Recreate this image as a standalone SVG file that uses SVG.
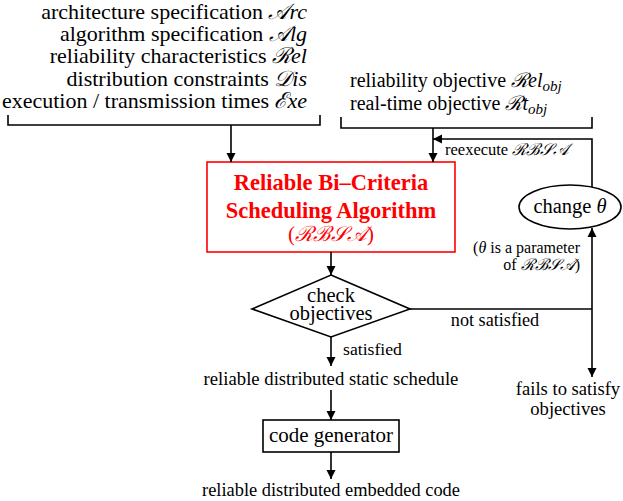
<svg xmlns="http://www.w3.org/2000/svg" width="623" height="501" viewBox="0 0 623 501">
<defs>
<marker id="ah" viewBox="0 0 10 10" refX="10" refY="5" markerWidth="9" markerHeight="10" markerUnits="userSpaceOnUse" orient="auto">
<path d="M0,0 L10,5 L0,10 z" fill="#000"/>
</marker>
</defs>
<rect width="623" height="501" fill="#fff"/>
<g id="inputs" font-size="22" text-anchor="end">
<text style="font-family:'Liberation Serif',serif !important" x="307" y="19">architecture specification <tspan style="font-family:'Liberation Serif',serif !important;font-style:italic">𝒜rc</tspan></text>
<text style="font-family:'Liberation Serif',serif !important" x="307" y="41">algorithm specification <tspan style="font-family:'Liberation Serif',serif !important;font-style:italic">𝒜lg</tspan></text>
<text style="font-family:'Liberation Serif',serif !important" x="307" y="63">reliability characteristics <tspan style="font-family:'Liberation Serif',serif !important;font-style:italic">ℛel</tspan></text>
<text style="font-family:'Liberation Serif',serif !important" x="307" y="85.5">distribution constraints <tspan style="font-family:'Liberation Serif',serif !important;font-style:italic">𝒟is</tspan></text>
<text style="font-family:'Liberation Serif',serif !important" x="307" y="108">execution / transmission times <tspan style="font-family:'Liberation Serif',serif !important;font-style:italic">ℰxe</tspan></text>
</g>
<g id="objectives" font-size="20">
<text style="font-family:'Liberation Serif',serif !important" x="350" y="87">reliability objective <tspan style="font-family:'Liberation Serif',serif !important;font-style:italic">ℛel</tspan><tspan style="font-family:'Liberation Serif',serif !important;font-style:italic" font-size="15" dy="4">obj</tspan></text>
<text style="font-family:'Liberation Serif',serif !important" x="350" y="110">real-time objective <tspan style="font-family:'Liberation Serif',serif !important;font-style:italic">ℛt</tspan><tspan style="font-family:'Liberation Serif',serif !important;font-style:italic" font-size="15" dy="4">obj</tspan></text>
</g>
<g id="rbsa" text-anchor="middle" fill="#ff0000">
<rect x="207" y="162" width="248" height="90" fill="#fff" stroke="#ff0000" stroke-width="1.6"/>
<text style="font-family:'Liberation Serif',serif !important" font-weight="bold" font-size="22.5" x="331" y="190">Reliable Bi–Criteria</text>
<text style="font-family:'Liberation Serif',serif !important" font-weight="bold" font-size="22.5" x="331" y="218">Scheduling Algorithm</text>
<text style="font-family:'Liberation Serif',serif !important" font-size="21" x="331" y="241">(<tspan style="font-family:'Liberation Serif',serif !important;font-style:italic">ℛℬ𝒮𝒜</tspan>)</text>
</g>
<g id="check" font-size="20.5" text-anchor="middle">
<polygon points="331,275 410,309 331,337 252,309" fill="#fff" stroke="#000" stroke-width="1.6"/>
<text style="font-family:'Liberation Serif',serif !important" x="331" y="302">check</text>
<text style="font-family:'Liberation Serif',serif !important" x="331" y="320">objectives</text>
</g>
<g id="change" font-size="20.5" text-anchor="middle">
<ellipse cx="570" cy="207" rx="51" ry="22" fill="#fff" stroke="#000" stroke-width="1.6"/>
<text style="font-family:'Liberation Serif',serif !important" x="570" y="213">change <tspan style="font-family:'Liberation Serif',serif !important;font-style:italic">θ</tspan></text>
</g>
<g id="codegen" font-size="21" text-anchor="middle">
<rect x="263" y="420" width="136" height="32" fill="#fff" stroke="#000" stroke-width="1.6"/>
<text style="font-family:'Liberation Serif',serif !important" x="331" y="442">code generator</text>
</g>
<g id="labels">
<text style="font-family:'Liberation Serif',serif !important" font-size="16.5" x="445" y="155">reexecute <tspan style="font-family:'Liberation Serif',serif !important;font-style:italic">ℛℬ𝒮𝒜</tspan></text>
<text style="font-family:'Liberation Serif',serif !important" font-size="16" x="580" y="253" text-anchor="end">(<tspan style="font-family:'Liberation Serif',serif !important;font-style:italic">θ</tspan> is a parameter</text>
<text style="font-family:'Liberation Serif',serif !important" font-size="16" x="580" y="270" text-anchor="end">of <tspan style="font-family:'Liberation Serif',serif !important;font-style:italic">ℛℬ𝒮𝒜</tspan>)</text>
<text style="font-family:'Liberation Serif',serif !important" font-size="18.2" x="495" y="326" text-anchor="middle">not satisfied</text>
<text style="font-family:'Liberation Serif',serif !important" font-size="17.7" x="343" y="355">satisfied</text>
<text style="font-family:'Liberation Serif',serif !important" font-size="18.7" x="331" y="385" text-anchor="middle">reliable distributed static schedule</text>
<text style="font-family:'Liberation Serif',serif !important" font-size="18.6" x="568" y="395" text-anchor="middle">fails to satisfy</text>
<text style="font-family:'Liberation Serif',serif !important" font-size="18.6" x="568" y="415" text-anchor="middle">objectives</text>
<text style="font-family:'Liberation Serif',serif !important" font-size="18.4" x="331" y="496" text-anchor="middle">reliable distributed embedded code</text>
</g>
<g id="connectors" fill="none" stroke="#000" stroke-width="1.6">
<path d="M8,115 V125 H320 V115"/>
<path d="M231,125 V162" marker-end="url(#ah)"/>
<path d="M341,117 V128 H592 V117"/>
<path d="M433,128 V162" marker-end="url(#ah)"/>
<path d="M592,187 V139 H433" marker-end="url(#ah)"/>
<path d="M331,252 V275" marker-end="url(#ah)"/>
<path d="M410,309 H592"/>
<path d="M592,309 V228" marker-end="url(#ah)"/>
<path d="M592,309 V377" marker-end="url(#ah)"/>
<path d="M331,337 V366" marker-end="url(#ah)"/>
<path d="M331,390 V420" marker-end="url(#ah)"/>
<path d="M331,452 V479" marker-end="url(#ah)"/>
</g>
</svg>
